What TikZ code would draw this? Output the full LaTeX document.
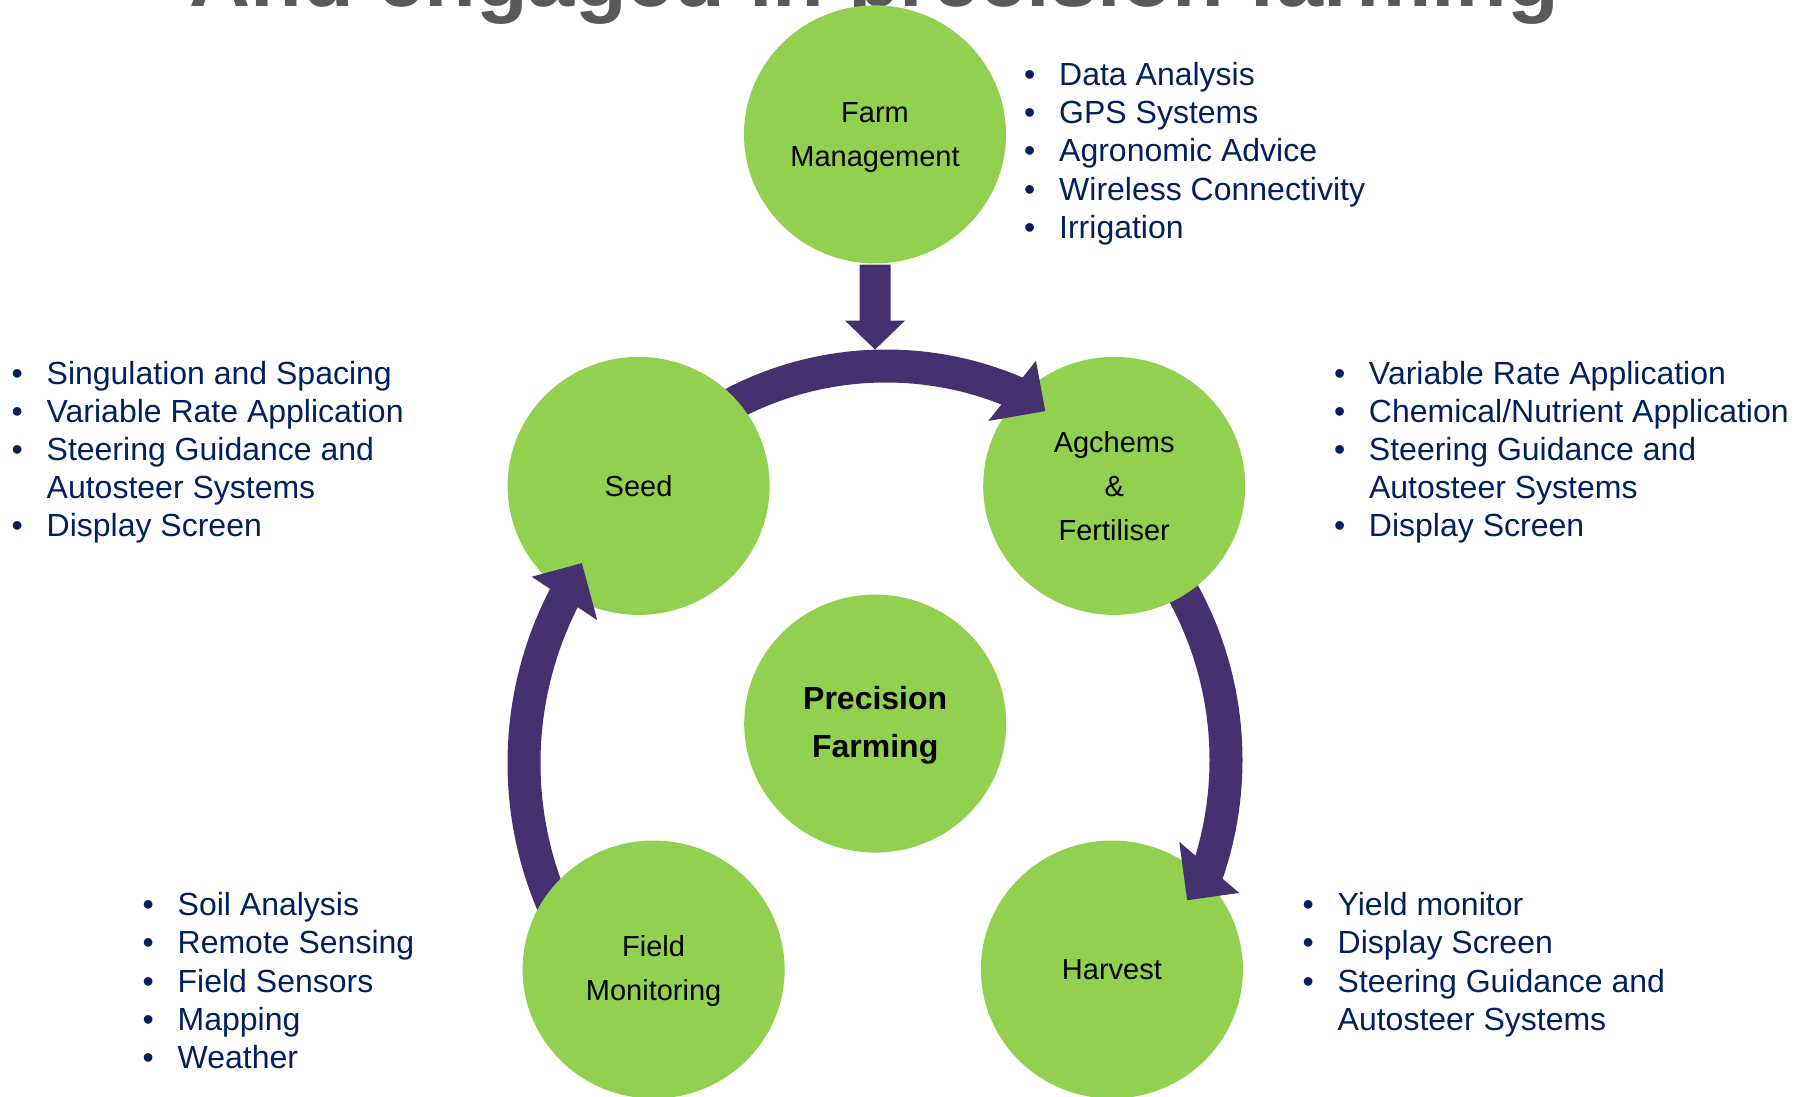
\documentclass[tikz,border=0pt]{standalone}
\usepackage{fontspec}
\setmainfont{Liberation Sans}
\usetikzlibrary{calc,shapes.geometric}
\definecolor{leaf}{RGB}{146,208,80}
\definecolor{cyc}{RGB}{69,48,112}
\definecolor{navy}{RGB}{0,32,96}
\definecolor{titlegray}{RGB}{89,89,89}
\newcommand\lbul{\makebox[35pt][l]{•}}
\newcommand\lnob{\hspace*{35pt}}
\begin{document}
\begin{tikzpicture}[x=1pt,y=1pt,
  stage/.style={ellipse, fill=leaf, minimum width=262pt, minimum height=258pt,
    inner sep=0pt, align=center, text depth=0pt,
    font=\fontsize{29}{44}\selectfont, text=black},
  band/.style={draw=cyc, line width=33pt},
  head/.style={fill=cyc},
  item/.style={anchor=base west, inner sep=0pt, text=navy,
    font=\fontsize{32}{38}\selectfont},
]
\useasboundingbox (0,0) rectangle (1801,1096);
\clip (0,0) rectangle (1801,1096);

% title (cut off at the top)
\node[anchor=base, inner sep=0pt, text=titlegray,
  font=\fontsize{84.7}{100}\selectfont\bfseries] (title) at (874,1089)
  {And engaged in precision farming};

% ring centres of the cycle arrows
\coordinate (ringT) at (886,400);
\coordinate (ringL) at (885,333);
\coordinate (ringR) at (878,336);

% arrow shafts (under the circles)
\draw[band] ($(ringT)+(125:330)$) arc[start angle=125, end angle=65, radius=330];
\draw[band] ($(ringL)+(210:361)$) arc[start angle=210, end angle=150, radius=361];
\draw[band] ($(ringR)+(35:348)$) arc[start angle=35, end angle=-21, radius=348];

% circles
\node[stage] (fm) at (875,961.6) {Farm\\Management};
\node[stage] (seed) at (638.6,610.1) {Seed};
\node[stage] (agchem) at (1114.2,610.1) {Agchems\\\&\\Fertiliser};
\node[stage, text depth=3.5pt, font=\fontsize{32}{48}\selectfont\bfseries] (pf) at (875.2,372.4) {Precision\\Farming};
\node[stage, text depth=3.5pt] (field) at (653.6,126.5) {Field\\Monitoring};
\node[stage] (harvest) at (1111.9,126.5) {Harvest};

% arrow heads (over the circles)
\fill[head] ($(ringT)+(65.9:367.3)$) -- ($(ringT)+(60.8:326.4)$) -- ($(ringT)+(69.6:293.4)$) -- cycle;
\fill[head] ($(ringL)+(152.2:399.4)$) -- ($(ringL)+(146.6:363.1)$) -- ($(ringL)+(153.6:321.3)$) -- cycle;
\fill[head] ($(ringR)+(-15.2:312.2)$) -- ($(ringR)+(-24.4:339.5)$) -- ($(ringR)+(-20.2:384.9)$) -- cycle;

% down arrow from Farm Management
\fill[head] ($(fm.south)+(-15.5,-1)$) -- ($(fm.south)+(15.5,-1)$) -- ($(fm.south)+(15.5,-57)$)
  -- ($(fm.south)+(30,-57)$) -- ($(fm.south)+(0,-86)$) -- ($(fm.south)+(-30,-57)$)
  -- ($(fm.south)+(-15.5,-57)$) -- cycle;

% bullet lists
\foreach \t [count=\i] in {{\lbul Data Analysis},{\lbul GPS Systems},{\lbul Agronomic Advice},{\lbul Wireless Connectivity},{\lbul Irrigation}}
  \node[item] (fml\i) at (1024,{1010.5-(\i-1)*38.2}) {\t};
\foreach \t [count=\i] in {{\lbul Singulation and Spacing},{\lbul Variable Rate Application},{\lbul Steering Guidance and},{\lnob Autosteer Systems},{\lbul Display Screen}}
  \node[item] (sdl\i) at (11.5,{711.7-(\i-1)*38.1}) {\t};
\foreach \t [count=\i] in {{\lbul Variable Rate Application},{\lbul Chemical/Nutrient Application},{\lbul Steering Guidance and},{\lnob Autosteer Systems},{\lbul Display Screen}}
  \node[item] (agl\i) at (1333.8,{711.7-(\i-1)*38.1}) {\t};
\foreach \t [count=\i] in {{\lbul Soil Analysis},{\lbul Remote Sensing},{\lbul Field Sensors},{\lbul Mapping},{\lbul Weather}}
  \node[item] (fdl\i) at (142.5,{180.4-(\i-1)*38.2}) {\t};
\foreach \t [count=\i] in {{\lbul Yield monitor},{\lbul Display Screen},{\lbul Steering Guidance and},{\lnob Autosteer Systems}}
  \node[item] (hvl\i) at (1302.5,{180.4-(\i-1)*38.2}) {\t};
\end{tikzpicture}
\end{document}
